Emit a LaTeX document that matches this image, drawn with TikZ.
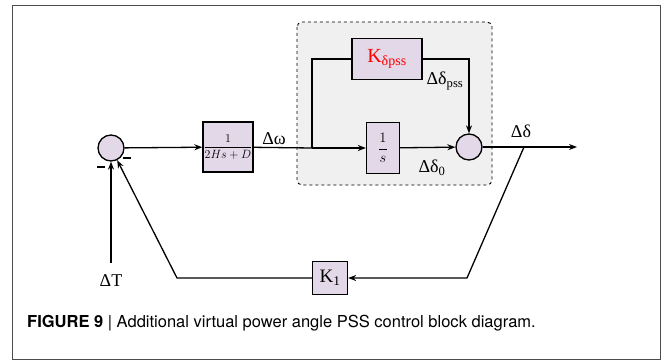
\documentclass[tikz,border=0pt]{standalone}
\usepackage{fontspec}
\setmainfont{Liberation Serif}
\newfontfamily\capfont{TeX Gyre Heros}
\usetikzlibrary{arrows.meta}
\definecolor{blockfill}{RGB}{226,216,232}
\definecolor{pssfill}{RGB}{240,240,240}

\begin{document}
\begin{tikzpicture}[x=1pt,y=-1pt,
	blk/.style={ draw, line width=1.3pt, fill=blockfill, inner sep=0pt },
	sumj/.style={ circle, draw, line width=1.3pt, fill=blockfill, inner sep=0pt, minimum size=26pt },
	sig/.style={ line width=1.3pt },
	arr/.style={ sig, -{Stealth[length=8pt,width=6pt]} },
	lbl/.style={ font=\fontsize{18}{18}\selectfont, inner sep=0pt }
]
\useasboundingbox (0,0) rectangle (665,361);
\draw[line width=1pt, black!70] (12,6) rectangle (660,359);

% PSS region
\draw[dashed, fill=pssfill, rounded corners=5pt, line width=0.9pt] (297,22) rectangle (492,185);

\node at (111,148) (s1) [sumj] {};
\node at (228,147) (g) [blk, minimum width=50pt, minimum height=50pt] {\fontsize{11.5}{11.5}\selectfont$\displaystyle\frac{1}{2Hs+D}$};
\node at (383,148) (int) [blk, minimum width=33pt, minimum height=51pt] {\fontsize{15}{15}\selectfont$\displaystyle\frac{1}{s}$};
\node at (387,59) (kp) [blk, minimum width=70pt, minimum height=41pt] {\fontsize{20}{20}\selectfont\color{red}K\textsubscript{δpss}};
\node at (469,147) (s2) [sumj] {};
\node at (330,278) (k1) [blk, minimum width=35pt, minimum height=33pt] {\fontsize{19}{19}\selectfont K\textsubscript{1}};

\coordinate (j) at (312,148);
\coordinate (tap) at (524,147);
\coordinate (out) at (577,147);
\coordinate (fb1) at (467,278);
\coordinate (fb2) at (177,278);
\coordinate (tin) at (111,263);

\draw[arr] (s1) -- (g);
\draw[sig] (g) -- (j);
\draw[arr] (j) -- (int);
\draw[arr] (int) -- (s2);
\draw[sig] (j) |- (kp.west);
\draw[arr] (kp.east) -| (s2.north);
\draw[arr] (s2) -- (out);
\draw[arr] (tap) -- (fb1) -- (k1.east);
\draw[arr] (k1.west) -- (fb2) -- (s1);
\draw[arr] (tin) -- (s1);
\foreach \p in {(101,167),(127,158)}
	\draw[sig] \p ++(-4,0) -- ++(8,0);

\node at (274,139) (dw) [lbl] {Δω};
\node at (445,81) (ddp) [lbl] {Δδ\textsubscript{pss}};
\node at (432,168) (dd0) [lbl] {Δδ\textsubscript{0}};
\node at (521,131) (dd) [lbl] {Δδ};
\node at (111,281) (dt) [lbl] {ΔT};

\node at (27,323) (cap) [anchor=west, inner sep=0pt, font=\capfont\fontsize{16.5}{16.5}\selectfont] {\textbf{FIGURE 9} | Additional virtual power angle PSS control block diagram.};

\end{tikzpicture}
\end{document}
